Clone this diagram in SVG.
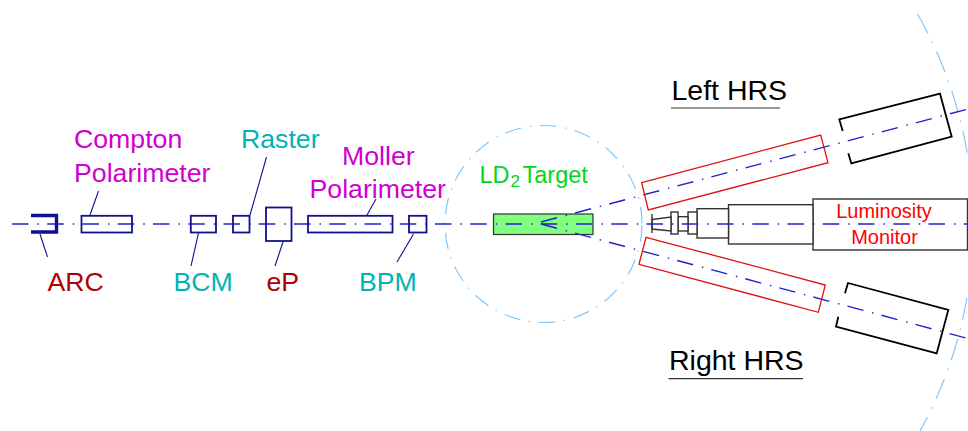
<svg xmlns="http://www.w3.org/2000/svg" width="968" height="431" viewBox="0 0 968 431">
<style>
text{font-family:"Liberation Sans",Arial,sans-serif;font-size:26.7px}
.mag{fill:#d000d0}.teal{fill:#00b4b4}.dred{fill:#b00000}.blk{fill:#000}
.dev{fill:none;stroke:#101090;stroke-width:1.8}
.lead{fill:none;stroke:#101090;stroke-width:1.1}
.axis{fill:none;stroke:#2222cc;stroke-width:1.4;stroke-dasharray:16.5 9 1.5 8.25}
.ring{fill:none;stroke:#80c8ff;stroke-width:1.2;stroke-dasharray:16.5 9 1.5 8.25}
.red{fill:none;stroke:#e01010;stroke-width:1.3}
.hrs{fill:none;stroke:#000;stroke-width:1.8}
.lum{fill:#fff;stroke:#333;stroke-width:1.4}
.rule{stroke:#333;stroke-width:1.2}
</style>
<rect width="968" height="431" fill="#fff"/>
<g id="rings">
<circle class="ring" cx="543.5" cy="224" r="98.5" stroke-dashoffset="-1.500"/>
<path class="ring" style="stroke-dasharray:22 9 1.500 9.500" d="M917.600,14 A426,426 0 0 1 920,431"/>
</g>
<g id="luminosity-monitor">
<rect class="lum" x="813" y="199" width="154.500" height="51"/>
<rect class="lum" x="728.500" y="204.700" width="84.500" height="39.300"/>
<rect class="lum" x="697" y="208.700" width="31.500" height="29.300"/>
<rect class="lum" x="688" y="212" width="9" height="22"/>
<rect class="lum" x="678" y="216.700" width="10" height="14.300"/>
<rect class="lum" x="671" y="212" width="7" height="22"/>
<path class="lum" d="M652,219.500 L671,217 V231 L652,229 Z"/>
<path class="lum" d="M652,214 V233"/>
<text x="884" y="218" text-anchor="middle" fill="#ff0000" style="font-size:20px">Luminosity</text>
<text x="884.500" y="244" text-anchor="middle" fill="#ff0000" style="font-size:20px">Monitor</text>
</g>
<g id="target"><rect x="493.500" y="214" width="99.500" height="20.500" fill="#80ff80" stroke="#333" stroke-width="1.200"/>
<text x="479.500" y="183" fill="#00d820" style="font-size:23.500px">LD</text><text x="510.500" y="187" fill="#00d820" style="font-size:17px">2</text><text x="522.500" y="183" fill="#00d820" style="font-size:23.500px">Target</text></g>
<g id="connectors">
<line class="axis" x1="12" y1="224" x2="968" y2="224"/>
<line class="axis" x1="541" y1="222" x2="968" y2="109"/>
<line class="axis" x1="541" y1="224" x2="968" y2="338.500"/>
<line class="lead" x1="40" y1="234" x2="47.500" y2="257"/>
<line class="lead" x1="90" y1="215" x2="98.500" y2="191"/>
<line class="lead" x1="198.500" y1="233" x2="191" y2="266"/>
<line class="lead" x1="250" y1="215" x2="266.500" y2="157"/>
<line class="lead" x1="283" y1="242" x2="275" y2="266"/>
<line class="lead" x1="367" y1="215" x2="376" y2="199"/>
<line class="lead" x1="413.500" y1="234" x2="397" y2="262"/>
</g>
<g id="arc"><path class="dev" style="stroke-width:3.400" d="M31,215.500 H56.500 V232 H31"/><text class="dred" x="47.500" y="291">ARC</text></g>
<g id="compton"><rect class="dev" x="81.500" y="215.800" width="50.500" height="16.700"/><text class="mag" x="74" y="148">Compton</text><text class="mag" x="74" y="182">Polarimeter</text></g>
<g id="bcm"><rect class="dev" x="190.800" y="215.800" width="25.200" height="16.700"/><text class="teal" x="173.500" y="291">BCM</text></g>
<g id="raster"><rect class="dev" x="233" y="215.800" width="16.500" height="16.700"/><text class="teal" x="241" y="148">Raster</text></g>
<g id="ep"><rect class="dev" x="266" y="207.500" width="25.500" height="33.500"/><text class="dred" x="266.500" y="291">eP</text></g>
<g id="moller"><rect class="dev" x="308" y="215.800" width="84.500" height="16.700"/><text class="mag" x="342" y="165">Moller</text><text class="mag" x="309.500" y="198">Polarimeter</text></g>
<g id="bpm"><rect class="dev" x="409" y="215.800" width="17.500" height="16.700"/><text class="teal" x="359" y="291">BPM</text></g>
<g id="left-hrs">
<path class="red" d="M641.700,182.700 L820.700,135 L828,162.700 L648.300,210 Z"/>
<path class="hrs" d="M842.700,131 L839.300,119.500 L940,93.700 L951.700,136.700 L851.300,163.300 L848.300,153.300"/>
<text class="blk" x="671.500" y="100" style="font-size:28.500px">Left HRS</text>
<line class="rule" x1="671" y1="108" x2="780" y2="108"/>
</g>
<g id="right-hrs">
<path class="red" d="M646,237.300 L825.300,285 L818.300,312.300 L639,264.300 Z"/>
<path class="hrs" d="M845,293.300 L848,283 L948.300,310 L936.700,353.300 L836,326.700 L838.300,316.700"/>
<text class="blk" x="669" y="370" style="font-size:28.500px">Right HRS</text>
<line class="rule" x1="668.500" y1="378.700" x2="803" y2="378.700"/>
</g>
</svg>
